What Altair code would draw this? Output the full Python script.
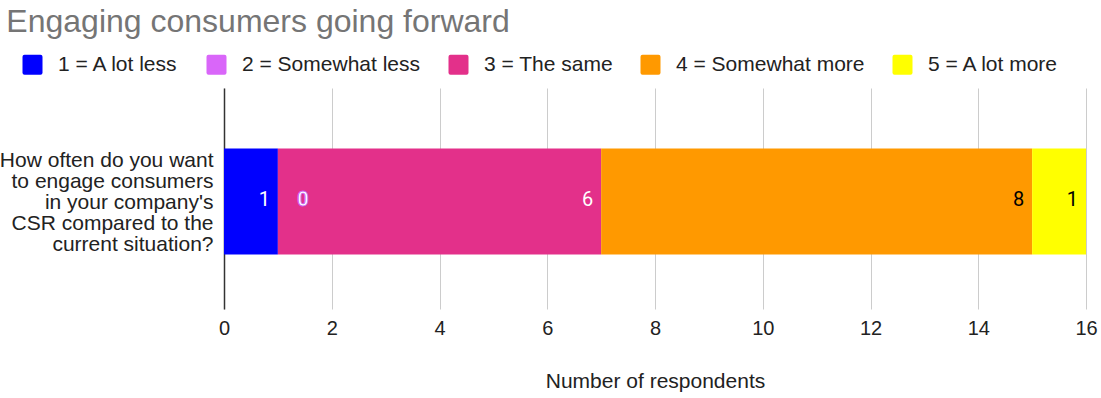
import altair as alt
import pandas as pd

title_text = "Engaging consumers going forward"
categories = ["1 = A lot less", "2 = Somewhat less", "3 = The same", "4 = Somewhat more", "5 = A lot more"]
counts = [1, 0, 6, 8, 1]
colors = ["#0000ff", "#d966f9", "#e3308a", "#ff9900", "#ffff00"]
label_colors = ["white", "white", "white", "black", "black"]
question = "How often do you want|to engage consumers|in your company's|CSR compared to the|current situation?"
x_ticks = [0, 2, 4, 6, 8, 10, 12, 14, 16]
x_title = "Number of respondents"

rows = []
cum = 0
for i, (c, n) in enumerate(zip(categories, counts)):
    rows.append({"q": question, "cat": c, "order": i, "n": n, "start": cum, "end": cum + n,
                 "lc": label_colors[i]})
    cum += n
df = pd.DataFrame(rows)

FONT = "Liberation Sans"
rounded_sq = "M -0.8 -1 L 0.8 -1 Q 1 -1 1 -0.8 L 1 0.8 Q 1 1 0.8 1 L -0.8 1 Q -1 1 -1 0.8 L -1 -0.8 Q -1 -1 -0.8 -1 Z"

y_enc = alt.Y("q:N", title=None,
              scale=alt.Scale(paddingInner=0.52, paddingOuter=0.26),
              axis=alt.Axis(labelExpr="split(datum.label, '|')", labelFont=FONT, labelFontSize=21,
                            labelLineHeight=21, labelColor="#222", labelLimit=400, labelPadding=11,
                            labelOffset=-38,
                            ticks=False, domain=True, domainColor="#333", domainWidth=1.5,
                            grid=False))

bars = alt.Chart(df).mark_bar(yOffset=3).encode(
    x=alt.X("start:Q", title=x_title,
            scale=alt.Scale(domain=[0, 16], nice=False),
            axis=alt.Axis(values=x_ticks, grid=True, gridColor="#cccccc", gridWidth=1,
                          domain=False, ticks=False, labelFont=FONT, labelFontSize=20,
                          labelFlush=False,
                          labelColor="#222", labelPadding=9, titleFont=FONT, titleFontSize=21,
                          titleFontWeight="normal", titleColor="#222", titlePadding=32)),
    x2="end:Q",
    y=y_enc,
    color=alt.Color("cat:N", sort=categories,
                    scale=alt.Scale(domain=categories, range=colors),
                    legend=alt.Legend(title=None, orient="none", direction="horizontal",
                                      legendX=-202, legendY=-34, symbolType=rounded_sq,
                                      symbolSize=400, symbolStrokeWidth=0, labelFont=FONT,
                                      labelFontSize=21, labelColor="#222", labelOffset=15,
                                      columnPadding=27, labelLimit=400)),
    order=alt.Order("order:Q"),
)

labels = alt.Chart(df).transform_filter("datum.n > 0").mark_text(
    align="right", baseline="middle", dx=-8, yOffset=1, font="Roboto", fontSize=20
).encode(
    x=alt.X("end:Q"),
    y=alt.Y("q:N"),
    text=alt.Text("n:Q"),
    color=alt.Color("lc:N", scale=None),
)

zero_labels = alt.Chart(df).transform_filter("datum.n == 0").mark_text(
    align="center", baseline="middle", dx=25, yOffset=1, font="Roboto", fontSize=20,
    fontWeight="bold", fill="white", stroke="#c860f0", strokeWidth=1.0
).encode(
    x=alt.X("end:Q"),
    y=alt.Y("q:N"),
    text=alt.Text("n:Q"),
)

chart = alt.layer(bars, labels, zero_labels).properties(
    width=862, height=221,
    title=alt.TitleParams(title_text, anchor="start", frame="bounds", dx=7, dy=36, offset=26,
                          baseline="alphabetic", font=FONT, fontSize=32, fontWeight="normal",
                          color="#757575"),
    autosize=alt.AutoSizeParams(type="none"),
    padding={"left": 224, "top": 88, "right": 15, "bottom": 89},
).configure_view(stroke=None)

chart.save("out.html", embed_options={"renderer": "svg", "actions": False})
